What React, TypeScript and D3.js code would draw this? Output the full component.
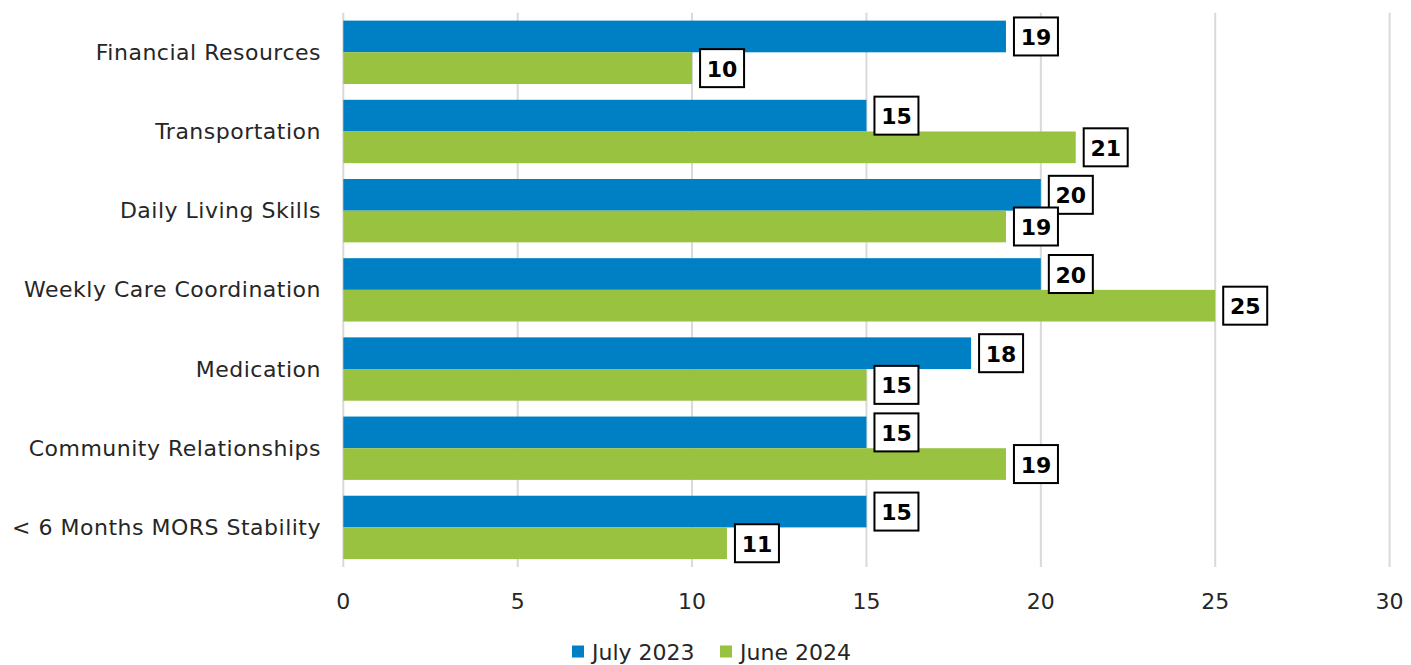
import React from "react";
import * as d3 from "d3";

const categories = [
  "Financial Resources",
  "Transportation",
  "Daily Living Skills",
  "Weekly Care Coordination",
  "Medication",
  "Community Relationships",
  "< 6 Months MORS Stability",
];
const seriesNames = ["July 2023", "June 2024"];
const july2023 = [19, 15, 20, 20, 18, 15, 15];
const june2024 = [10, 21, 19, 25, 15, 19, 11];
const xTicks = [0, 5, 10, 15, 20, 25, 30];
const colors = ["#0080C4", "#98C23F"];

const W = 1411;
const H = 665;
const FONT = "'DejaVu Sans', sans-serif";

export default function App() {
  const left = 343.3;
  const right = 1389.6;
  const top = 12.7;
  const bottom = 567;
  const x = d3.scaleLinear().domain([0, 30]).range([left, right]);
  const y = d3.scaleBand<string>().domain(categories).range([top, bottom]).paddingInner(0.2).paddingOuter(0.1);
  const inner = d3.scaleBand<string>().domain(seriesNames).range([0, y.bandwidth()]);
  const series = [july2023, june2024];
  const boxW = 44;
  const boxH = 38;

  return (
    <svg width={W} height={H} style={{ position: "absolute", left: 0, top: 0, background: "#fff" }}>
      {xTicks.map((t) => (
        <line key={"g" + t} x1={x(t)} x2={x(t)} y1={top} y2={bottom} stroke="#D9D9D9" strokeWidth={2} />
      ))}
      {xTicks.map((t) => (
        <text key={"t" + t} x={x(t)} y={601} textAnchor="middle" dominantBaseline="central" fontFamily={FONT} fontSize={22} fill="#262626">
          {t}
        </text>
      ))}
      {categories.map((c) => (
        <text key={"c" + c} x={321} y={(y(c) as number) + y.bandwidth() / 2} textAnchor="end" dominantBaseline="central" fontFamily={FONT} fontSize={22} letterSpacing={0.5} fill="#262626">
          {c}
        </text>
      ))}
      {series.map((vals, si) =>
        vals.map((v, i) => {
          const c = categories[i];
          const by = (y(c) as number) + (inner(seriesNames[si]) as number);
          return (
            <rect key={`b${si}-${i}`} x={x(0)} y={by} width={x(v) - x(0)} height={inner.bandwidth()} fill={colors[si]} />
          );
        })
      )}
      {series.map((vals, si) =>
        vals.map((v, i) => {
          const c = categories[i];
          const cy = (y(c) as number) + (inner(seriesNames[si]) as number) + inner.bandwidth() / 2;
          const bx = x(v) + 8;
          return (
            <g key={`l${si}-${i}`}>
              <rect x={bx} y={cy - boxH / 2} width={boxW} height={boxH} fill="#fff" stroke="#000" strokeWidth={2} />
              <text x={bx + boxW / 2} y={cy + 1} textAnchor="middle" dominantBaseline="central" fontFamily={FONT} fontWeight="bold" fontSize={22} fill="#000">
                {v}
              </text>
            </g>
          );
        })
      )}
      {seriesNames.map((s, i) => {
        const lx = [572, 720][i];
        return (
          <g key={"lg" + s}>
            <rect x={lx} y={645.5} width={12} height={12} fill={colors[i]} />
            <text x={lx + 20} y={652} dominantBaseline="central" fontFamily={FONT} fontSize={22} fill="#262626">
              {s}
            </text>
          </g>
        );
      })}
    </svg>
  );
}
